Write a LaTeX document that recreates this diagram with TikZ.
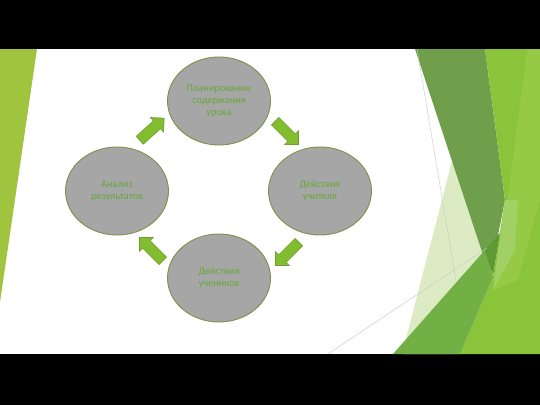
\documentclass[tikz,border=0pt]{standalone}
\usepackage{fontspec}
\setmainfont{Carlito}
\usetikzlibrary{shapes.geometric,shapes.arrows}

\definecolor{stagegray}{HTML}{A6A6A6}
\definecolor{stageedge}{HTML}{7F9048}
\definecolor{stagetext}{HTML}{66A83A}
\definecolor{arrowgreen}{HTML}{82BD30}
\definecolor{arrowedge}{HTML}{6E9E2E}
\definecolor{leftgreen}{HTML}{A0C43E}
\definecolor{bandgreen}{HTML}{6F9F4B}
\definecolor{brightgreen}{HTML}{8AC43B}
\definecolor{lightgreen}{HTML}{95C946}
\definecolor{stripgreen}{HTML}{A2D065}
\definecolor{midgreen}{HTML}{72AF45}
\definecolor{palegreen}{HTML}{DCEBC4}
\definecolor{deepgreen}{HTML}{5E9A33}

\tikzset{
  stage/.style={ellipse, draw=stageedge, line width=0.9pt, fill=stagegray,
    minimum width=103pt, minimum height=88pt, inner sep=0pt, align=center,
    text=stagetext, font=\fontsize{10.3}{12}\selectfont},
  flow/.style={single arrow, draw=arrowedge, fill=arrowgreen, line width=0.6pt,
    inner xsep=0pt, inner ysep=5pt, single arrow head extend=4.5pt,
    minimum height=33pt},
  hairline/.style={draw=black!22, line width=0.4pt}
}

\begin{document}
\begin{tikzpicture}[x=1pt,y=-1pt]
  \useasboundingbox (0,0) rectangle (540,405);
  \fill[black] (0,0) rectangle (540,405);
  \fill[white] (0,49) rectangle (540,354);
  % slide decoration
  \fill[leftgreen] (0,49) -- (37,49) -- (0,302) -- cycle;
  \fill[palegreen] (458,138) -- (490,276) -- (460,354) -- (402,354) -- cycle;
  \fill[bandgreen] (415,49) -- (485,49) -- (505,200) -- (490,276) -- cycle;
  \fill[brightgreen] (485,49) -- (540,49) -- (540,354) -- (460,354) -- (493,277) -- (505,200) -- cycle;
  \fill[lightgreen] (527,49) -- (540,49) -- (540,200) -- (518,280) -- (493,290) -- (507,205) -- cycle;
  \fill[stripgreen] (505,200) -- (518,200) -- (515,250) -- (493,290) -- cycle;
  \fill[midgreen] (393,354) -- (485,250) -- (493,277) -- (460,354) -- cycle;
  \fill[deepgreen] (485,250) -- (500,233) -- (493,276) -- cycle;
  \draw[hairline] (417,49) -- (456,281);
  \draw[hairline] (328,354) -- (487,248);
  %
  \node[stage] (c1) at (219,101) {Планирование\\содержания\\урока};
  \node[stage] (c2) at (320,191) {Действия\\учителя};
  \node[stage] (c3) at (219,278) {Действия\\учеников};
  \node[stage] (c4) at (117,191) {Анализ\\результатов};
  %
  \node[flow, rotate=-45] (a1) at (285,131) {};
  \node[flow, rotate=-135] (a2) at (289,252) {};
  \node[flow, rotate=135] (a3) at (153,251) {};
  \node[flow, rotate=42] (a4) at (150,131) {};
\end{tikzpicture}
\end{document}
